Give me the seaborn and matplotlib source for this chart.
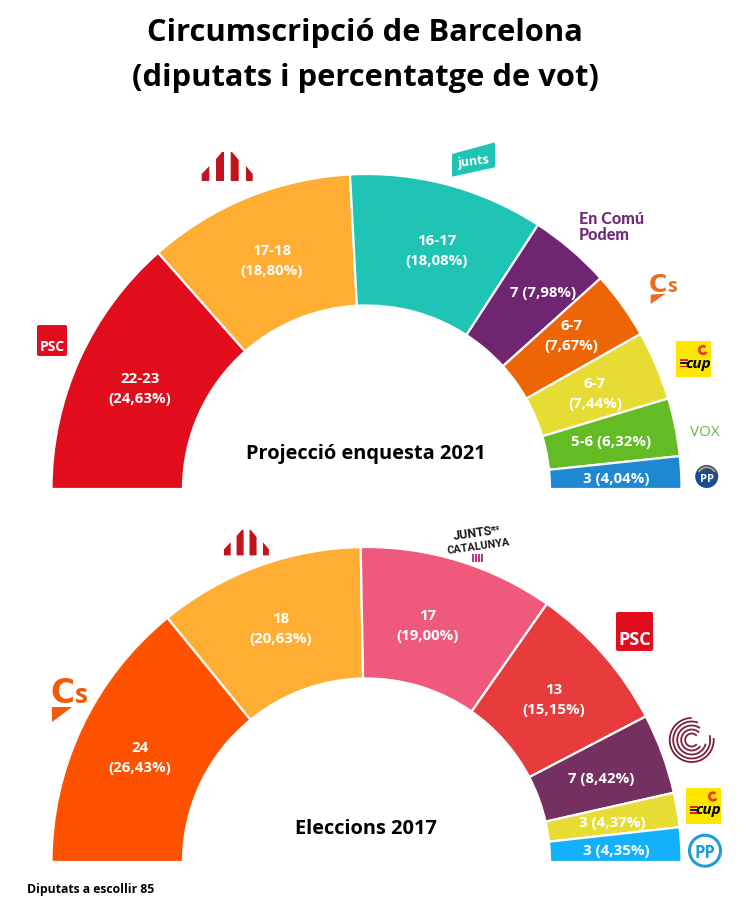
import numpy as np
import matplotlib
matplotlib.use("Agg")
import matplotlib.pyplot as plt
from matplotlib import font_manager
from matplotlib.patches import Polygon, FancyBboxPatch, Circle, Rectangle, Arc
import seaborn as sns

parties_2021 = ["PSC", "ERC", "Junts", "ECP", "Cs", "CUP", "VOX", "PP"]
arc_2021 = [48.6, 38.4, 36.0, 15.0, 12.5, 12.8, 10.7, 6.0]
labels_2021 = ["22-23\n(24,63%)", "17-18\n(18,80%)", "16-17\n(18,08%)", "7 (7,98%)",
               "6-7\n(7,67%)", "6-7\n(7,44%)", "5-6 (6,32%)", "3 (4,04%)"]
colors_2021 = ["#e10d1c", "#ffad33", "#20c4b4", "#6f2570", "#ee6505", "#e6dc33", "#63bc24", "#1e88d2"]
label_px_2021 = [(140, 388), (271.5, 260), (437, 250), (543, 292), (571.7, 335), (595, 393), (611, 441), (616, 478)]

parties_2017 = ["Cs", "ERC", "JxCat", "PSC", "CeC", "CUP", "PP"]
seats_2017 = [24, 18, 17, 13, 7, 3, 3]
labels_2017 = ["24\n(26,43%)", "18\n(20,63%)", "17\n(19,00%)", "13\n(15,15%)",
               "7 (8,42%)", "3 (4,37%)", "3 (4,35%)"]
colors_2017 = ["#ff5200", "#ffad33", "#ef5a7c", "#e83c3c", "#743060", "#e6dc33", "#14b1fb"]
label_px_2017 = [(140, 757), (281, 628), (428, 625), (554, 699), (601, 778), (612.7, 822), (616, 850)]

W, H = 756, 920
sns.set_theme(style="white")
FONT = ["Open Sans", "DejaVu Sans"]
plt.rcParams["font.family"] = FONT
installed = {f.name for f in font_manager.fontManager.ttflist}
NARROW = "Liberation Sans Narrow" if "Liberation Sans Narrow" in installed else "Roboto"

fig = plt.figure(figsize=(W / 100, H / 100), dpi=100, facecolor="white")
ax = fig.add_axes([0, 0, 1, 1])


def Y(py):
    return H - py


def P(pts):
    return [(x, Y(y)) for x, y in pts]


def txt(x, y, s, size, color="black", weight="bold", **kw):
    kw.setdefault("ha", "center")
    kw.setdefault("va", "center")
    return ax.text(x, Y(y), s, fontsize=size, color=color, fontweight=weight, **kw)


def hemicycle(weights, colors, cx, cy, R=315.0, r=183.5):
    total = float(sum(weights))
    wedges, _ = ax.pie(list(weights) + [total], colors=sns.color_palette(list(colors)) + [(1, 1, 1)],
                       startangle=180, counterclock=False, center=(cx, Y(cy)), radius=R,
                       wedgeprops=dict(width=R - r, edgecolor="white", linewidth=1.6))
    wedges[-1].set_visible(False)


hemicycle(arc_2021, colors_2021, 366.5, 490)
hemicycle(seats_2017, colors_2017, 366.5, 863)
ax.set_xlim(0, W)
ax.set_ylim(0, H)
ax.set_aspect("equal")
ax.set_axis_off()

for (x, y), s in zip(label_px_2021 + label_px_2017, labels_2021 + labels_2017):
    txt(x, y + 1, s, 10.8, "white", linespacing=1.5)

txt(365, 33, "Circumscripció de Barcelona", 22.2)
txt(365, 78, "(diputats i percentatge de vot)", 22.2)
txt(365.5, 454, "Projecció enquesta 2021", 14.4)
txt(365.5, 829, "Eleccions 2017", 14.4)
txt(27, 890, "Diputats a escollir 85", 8.8, ha="left")


def erc(x0, y0, s):
    c = "#c0141f"
    bars = [[(0, 30), (7.6, 30), (7.6, 15), (0, 23)],
            [(14.3, 30), (22.3, 30), (22.3, 1), (20.3, 1), (14.3, 8)],
            [(29, 30), (37, 30), (37, 9), (30.3, 1), (29, 1)],
            [(44.3, 30), (51, 30), (51, 23), (44.3, 15)]]
    for b in bars:
        ax.add_patch(Polygon(P([(x0 + a * s, y0 + d * s) for a, d in b]), fc=c, ec="none"))


def psc(x0, y0, x1, y1, size):
    ax.add_patch(FancyBboxPatch((x0 + 1.5, Y(y1) + 1.5), x1 - x0 - 3, y1 - y0 - 3,
                                boxstyle="round,pad=1.5,rounding_size=2", fc="#e10d1c", ec="none"))
    txt((x0 + x1) / 2, y0 + (y1 - y0) * 0.69, "PSC", size, "white")


def cs(xc, xs, base, csize, ssize, tri, c):
    txt(xc, base, "C", csize, c, ha="left", va="baseline", family=["DejaVu Sans"])
    txt(xs, base, "s", ssize, c, ha="left", va="baseline")
    ax.add_patch(Polygon(P(tri), fc=c, ec="none"))


def cup(x0, y0, x1, y1):
    ax.add_patch(Rectangle((x0, Y(y1)), x1 - x0, y1 - y0, fc="#ffe600", ec="none"))
    txt(x0 + 22, y0 + 22, "cup", 11, "black", style="italic")
    for i, col in enumerate(["#d4281c", "#222222", "#d4281c"]):
        ax.add_patch(Rectangle((x0 + 4, Y(y0 + 20 + i * 3.2)), 8, 1.8, fc=col, ec="none"))
    ax.add_patch(Arc((x0 + 27, Y(y0 + 9)), 7.5, 7.5, theta1=50, theta2=330, color="#e2401b", lw=2))


def pp_small(cx, cy, r):
    ax.add_patch(Circle((cx, Y(cy)), r, fc="#1a4d8f", ec="none"))
    ax.add_patch(Arc((cx, Y(cy)), r * 1.6, r * 1.6, theta1=30, theta2=150, color="#f0a030", lw=1.2))
    txt(cx, cy + 2.5, "PP", 8, "white")


# Logos of the 2021 block
psc(37, 326, 67, 357, 10)
erc(201.7, 152, 1.0)
ax.add_patch(Polygon(P([(452, 155), (495, 143.3), (495, 168.3), (452, 177.7)]), fc="#20c4b4", ec="none"))
txt(473.5, 162, "junts", 9, "white", rotation=7)
txt(579, 219, "En Comú", 11.6, "#6f2a78", weight="black", ha="left", family=["Lato", "DejaVu Sans"])
txt(579, 235, "Podem", 11.6, "#6f2a78", weight="black", ha="left", family=["Lato", "DejaVu Sans"])
cs(649, 667, 291.5, 18, 14, [(650.7, 295.7), (665.7, 294.5), (650.7, 305)], "#ee6a1e")
cup(676, 342, 711, 378)
txt(705, 433, "VOX", 11, "#63b84a", weight="normal")
pp_small(706.7, 477.5, 11.5)

# Logos of the 2017 block
erc(224, 530, 0.88)
txt(473, 534, "JUNTS", 9, "#1a1a1a", rotation=8, family=[NARROW, "DejaVu Sans"])
txt(478.5, 547, "CATALUNYA", 7.8, "#1a1a1a", rotation=8, family=[NARROW, "DejaVu Sans"])
txt(495, 529, "PER", 3.8, "#1a1a1a", rotation=8)
for i in range(4):
    ax.add_patch(Rectangle((472.5 + i * 3, Y(563)), 2, 8, fc="#c8327a", ec="none"))
psc(616, 613, 653, 652, 13)
rings = [(44, 90, 365), (37, 70, 375), (29, 55, 345), (21, 45, 325), (13, 40, 320)]
for d, t1, t2 in rings:
    ax.add_patch(Arc((691.7, Y(741)), d, d, theta1=t1, theta2=t2, color="#7a1f3d", lw=1.3))
cs(50, 75, 702.7, 23.5, 19, [(52, 708), (72, 708), (52, 723)], "#f05a0a")
cup(686, 788.5, 721, 825)
ax.add_patch(Circle((705, Y(851.7)), 15.5, fc="white", ec="#1f9bd8", lw=2.2))
txt(705, 853.5, "PP", 12, "#1f9bd8")

fig.savefig("out.png", dpi=100, facecolor="white")
